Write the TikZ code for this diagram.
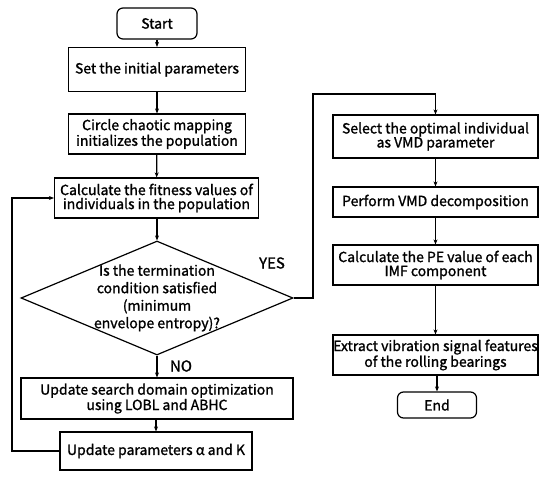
\documentclass[tikz,border=0pt]{standalone}
\usepackage{fontspec}
\setmainfont{Noto Sans CJK SC}[FakeBold=1.3]
\usetikzlibrary{shapes.geometric,arrows.meta}
\begin{document}
\begin{tikzpicture}[x=1pt,y=-1pt,
  every node/.style={font=\fontsize{14}{14}\selectfont},
  box/.style={draw,line width=1.2pt,align=center,inner sep=0pt},
  term/.style={box,rounded corners=6pt},
  dia/.style={draw,line width=1.2pt,shape=diamond,aspect=2.39,inner xsep=-10pt,inner ysep=-8pt,align=center,font=\fontsize{14}{17.5}\selectfont},
  flow/.style={line width=1.2pt,-{Stealth[length=5pt,width=4pt]}},
  lbl/.style={font=\fontsize{15}{15}\selectfont}]
\useasboundingbox (0,0) rectangle (550,480);
\node[term,minimum width=80pt,minimum height=31pt] (start) at (157,23.5) {Start};
\node[box,minimum width=177pt,minimum height=44pt] (set) at (157,69.5) {Set the initial parameters};
\node[box,minimum width=177pt,minimum height=40pt] (circ) at (157,134) {Circle chaotic mapping\\initializes the population};
\node[box,minimum width=204pt,minimum height=40pt] (fit) at (156.5,198) {Calculate the fitness values of\\individuals in the population};
\node[dia,minimum width=272pt,minimum height=114pt] (dec) at (157,298) {Is the termination\\condition satisfied\\(minimum\\envelope entropy)?};
\node[box,minimum width=272pt,minimum height=41pt] (upd) at (157,398.5) {Update search domain optimization\\using LOBL and ABHC};
\node[box,minimum width=192pt,minimum height=38pt] (par) at (156,451) {Update parameters α and K};
\node[box,minimum width=205pt,minimum height=43pt] (sel) at (435.5,136.5) {Select the optimal individual\\as VMD parameter};
\node[box,minimum width=205pt,minimum height=30pt] (vmd) at (435.5,202) {Perform VMD decomposition};
\node[box,minimum width=205pt,minimum height=40pt] (pe) at (435.5,265) {Calculate the PE value of each\\IMF component};
\node[box,minimum width=205pt,minimum height=40pt] (ext) at (435.5,355) {Extract vibration signal features\\of the rolling bearings};
\node[term,minimum width=79pt,minimum height=26pt] (end) at (437,405) {End};
\node[lbl] (yes) at (272,263) {YES};
\node[lbl] (no) at (181,366) {NO};
\coordinate (c1) at (313,298);
\coordinate (c2) at (313,94);
\coordinate (c3) at (435.5,94);
\coordinate (l1) at (12,451);
\coordinate (l2) at (12,198);
\draw[flow] (start) -- (set);
\draw[flow] (set) -- (circ);
\draw[flow] (circ) -- (fit);
\draw[flow] (fit.south -| dec.north) -- (dec.north);
\draw[flow] (dec.south) -- (upd.north -| dec.south);
\draw[flow] (upd.south -| par.north) -- (par.north);
\draw[flow] (par.west) -- (l1) -- (l2) -- (fit.west);
\draw[flow] (dec.east) -- (c1) -- (c2) -- (c3) -- (sel.north);
\draw[flow] (sel) -- (vmd);
\draw[flow] (vmd) -- (pe);
\draw[flow] (pe) -- (ext);
\draw[flow] (ext.south -| end.north) -- (end.north);
\end{tikzpicture}
\end{document}
